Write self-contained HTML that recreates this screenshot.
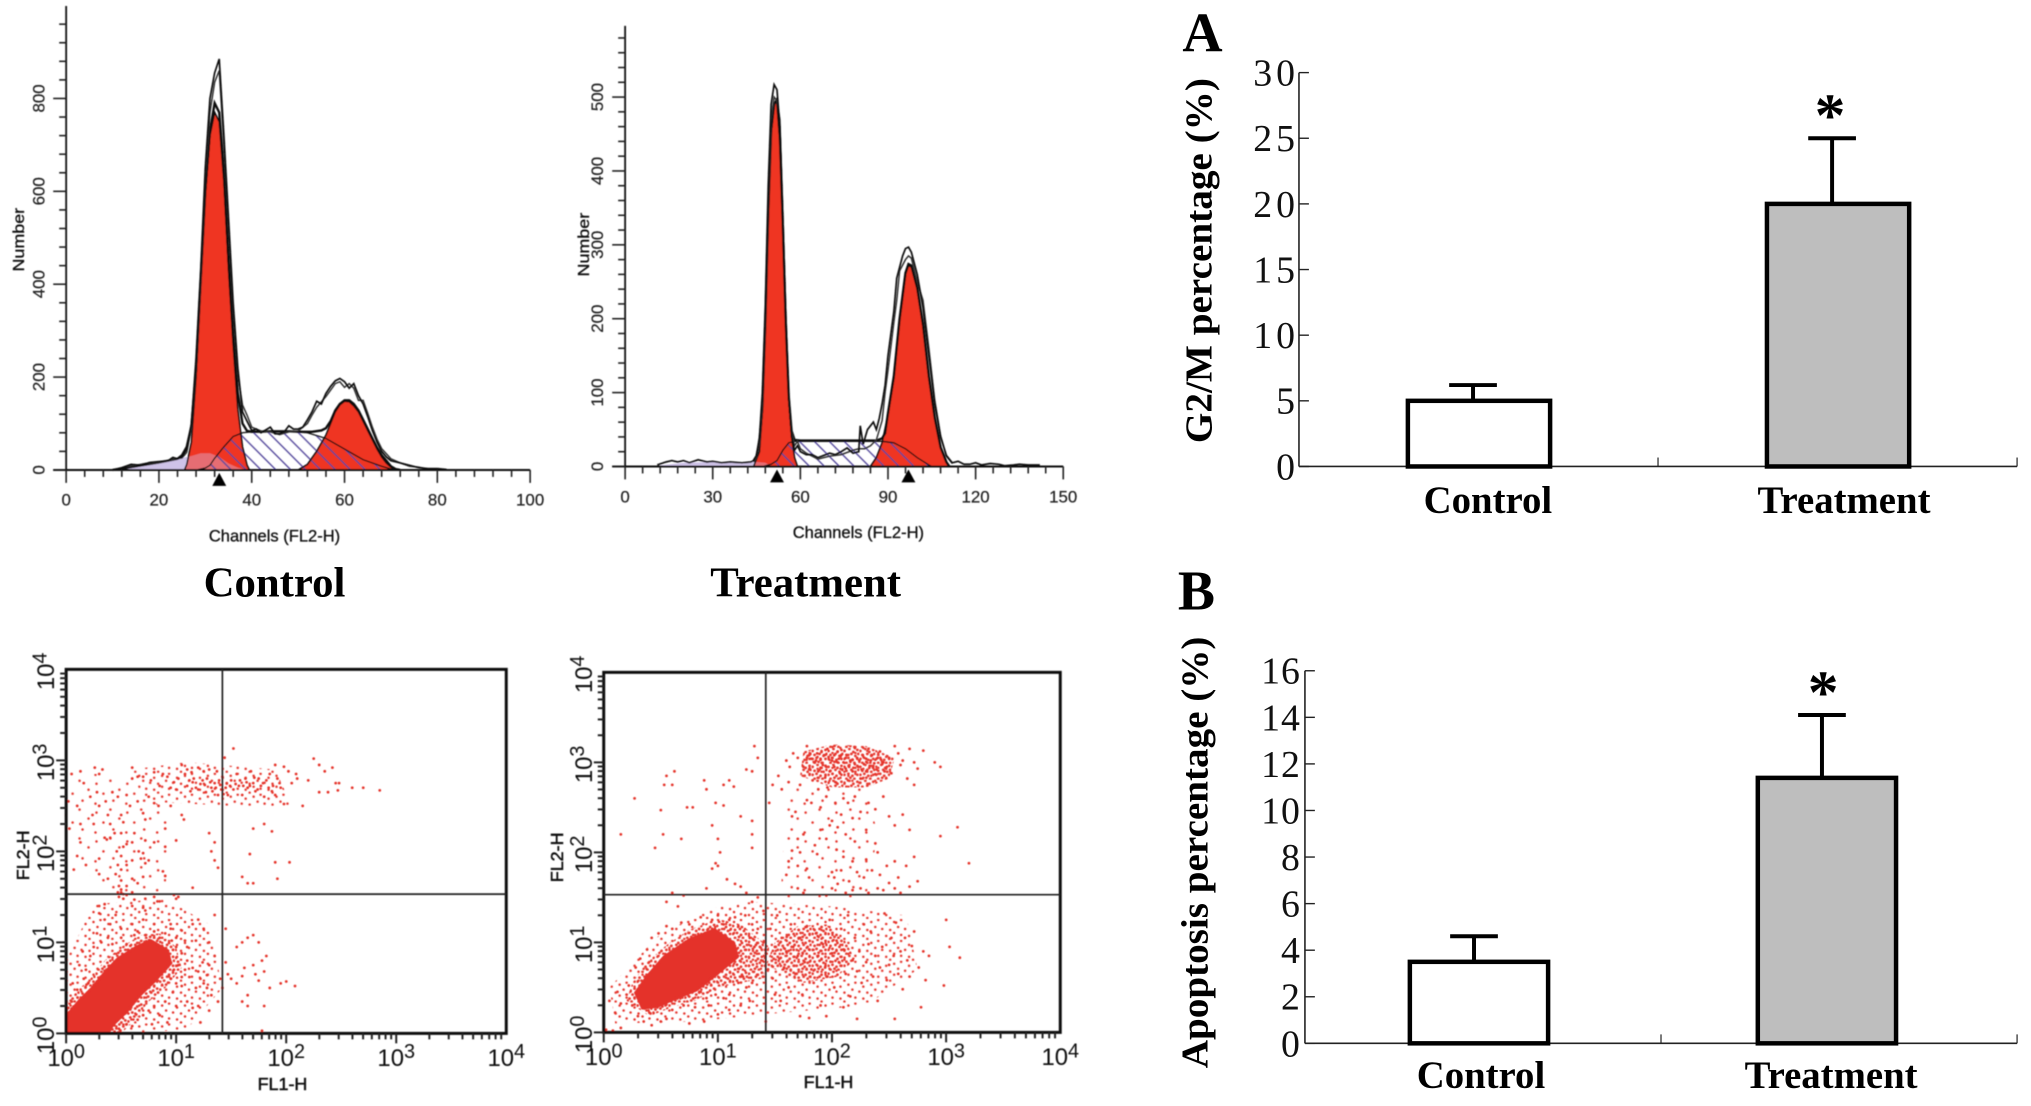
<!DOCTYPE html>
<html>
<head>
<meta charset="utf-8">
<title>Cell cycle and apoptosis flow cytometry</title>
<style>
html,body{margin:0;padding:0;background:#fff;}
svg{display:block;}
text{font-family:"Liberation Sans",sans-serif;}
.serif{font-family:"Liberation Serif",serif;}
</style>
</head>
<body>
<svg id="fig" width="2031" height="1106" viewBox="0 0 2042 1112" preserveAspectRatio="none" xmlns="http://www.w3.org/2000/svg">
<defs>
<pattern id="hatch" patternUnits="userSpaceOnUse" width="15" height="15">
<path d="M-2,-2 L17,17 M-2,13 L2,17 M13,-2 L17,2" stroke="#54489c" stroke-width="1.4" fill="none"/>
</pattern>
<pattern id="speckleDense" patternUnits="userSpaceOnUse" width="16" height="16">
<g fill="#e5342c"><circle cx="1" cy="3" r="1.4"/><circle cx="6" cy="1" r="1.4"/><circle cx="10" cy="4" r="1.4"/><circle cx="14" cy="2" r="1.4"/><circle cx="3" cy="7" r="1.4"/><circle cx="8" cy="6" r="1.4"/><circle cx="12" cy="8" r="1.4"/><circle cx="15" cy="6" r="1.4"/><circle cx="1" cy="11" r="1.4"/><circle cx="5" cy="10" r="1.4"/><circle cx="9" cy="12" r="1.4"/><circle cx="14" cy="11" r="1.4"/><circle cx="3" cy="15" r="1.4"/><circle cx="7" cy="14" r="1.4"/><circle cx="11" cy="15" r="1.4"/></g>
</pattern>
<pattern id="speckleMid" patternUnits="userSpaceOnUse" width="23" height="21">
<g fill="#e5342c"><circle cx="2" cy="3" r="1.25"/><circle cx="9" cy="1" r="1.25"/><circle cx="17" cy="5" r="1.25"/><circle cx="6" cy="8" r="1.25"/><circle cx="13" cy="10" r="1.25"/><circle cx="21" cy="11" r="1.25"/><circle cx="2" cy="14" r="1.25"/><circle cx="9" cy="16" r="1.25"/><circle cx="17" cy="17" r="1.25"/><circle cx="21" cy="20" r="1.25"/></g>
</pattern>
<pattern id="speckleSparse" patternUnits="userSpaceOnUse" width="31" height="29">
<g fill="#e5342c"><circle cx="4" cy="5" r="1.25"/><circle cx="18" cy="2" r="1.25"/><circle cx="27" cy="11" r="1.25"/><circle cx="11" cy="15" r="1.25"/><circle cx="21" cy="22" r="1.25"/><circle cx="3" cy="25" r="1.25"/></g>
</pattern>
<filter id="soft" x="-5%" y="-5%" width="110%" height="110%"><feGaussianBlur stdDeviation="0.55"/></filter>
</defs>
<rect width="2042" height="1112" fill="#fff"/>
<g id="left" filter="url(#soft)"></g>
<g id="right"></g>
</svg>
<script>
/* ---------- Histogram data: [channel, count] ---------- */
const ctrlRawA=[[10,0],[12,5],[14,12],[16,10],[18,16],[20,18],[22,20],[23,27],[24,24],[25,28],[26,45],[27,100],[28,240],[29,430],[30,650],[31,800],[32,855],[33,885],[34,720],[35,540],[36,360],[37,220],[38,125],[39,105],[40,85],[41,88],[42,80],[43,86],[44,92],[45,78],[46,78],[47,82],[48,95],[49,88],[50,88],[51,92],[52,108],[53,125],[54,148],[55,142],[56,165],[57,180],[58,192],[59,197],[60,190],[61,176],[62,186],[63,160],[64,142],[65,115],[66,85],[67,60],[68,40],[69,28],[70,20],[72,15],[74,10],[76,5],[78,3],[80,3],[82,1]];
const ctrlRawB=[[11,2],[13,8],[15,10],[17,14],[19,15],[21,18],[23,22],[25,26],[26,38],[27,90],[28,225],[29,410],[30,630],[31,770],[32,835],[33,860],[34,700],[35,520],[36,345],[37,205],[38,140],[39,118],[40,92],[42,84],[44,82],[46,76],[48,82],[50,84],[52,100],[53,118],[54,135],[56,158],[58,186],[59,190],[60,178],[61,186],[62,176],[63,150],[64,150],[65,122],[66,92],[67,66],[68,46],[70,24],[72,15],[74,8],[76,6],[78,2],[80,1]];
const ctrlFit=[[10,0],[15,8],[20,16],[24,24],[25,32],[26,50],[27,95],[28,215],[29,410],[30,600],[31,730],[32,790],[33,770],[34,640],[35,450],[36,290],[37,165],[38,100],[39,84],[40,82],[44,83],[48,83],[51,82],[53,82],[55,85],[56,90],[57,105],[58,128],[59,142],[60,150],[61,150],[62,142],[63,128],[64,108],[65,88],[66,68],[67,48],[68,32],[69,20],[70,8],[71,2],[72,0]];
const ctrlG1=[[25.5,0],[26,12],[27,60],[28,200],[29,400],[30,590],[31,720],[32,770],[33,750],[34,620],[35,430],[36,270],[37,130],[38,50],[39,10],[39.5,0]];
const ctrlG2=[[50,0],[52,12],[54,40],[56,75],[57,100],[58,125],[59,140],[60,148],[61,147],[62,138],[63,125],[64,105],[65,85],[66,65],[67,45],[68,28],[69,15],[70,6],[71,0]];
const ctrlS=[[28,0],[30,4],[31,10],[32,25],[34,50],[36,72],[38,80],[40,82],[44,83],[48,83],[52,80],[56,68],[60,45],[64,22],[68,8],[70,2],[72,0]];
const ctrlSub=[[10,0],[15,8],[20,16],[24,24],[27,30],[29,36],[31,36],[33,28],[35,14],[37,5],[39,0]];
const ctrlPeaks=[33];
const ctrlXTicks=[0,20,40,60,80,100];
const ctrlYTicks=[0,200,400,600,800];

const trtRawA=[[11,2],[14,6],[16,8],[18,6],[20,8],[22,5],[25,9],[28,6],[30,7],[33,5],[36,6],[40,5],[43,6],[44,8],[45,15],[46,40],[47,100],[48,220],[49,380],[50,490],[51,517],[52,510],[53,460],[54,330],[55,200],[56,90],[57,40],[58,22],[59,28],[60,20],[61,18],[62,16],[64,16],[66,12],[68,15],[70,18],[72,16],[74,20],[76,25],[78,18],[80,20],[80.5,55],[81.5,30],[83,50],[85,60],[86,50],[87,65],[88,85],[89,110],[90,150],[92,210],[93,255],[95,285],[96,295],[97,297],[98,290],[100,260],[102,215],[104,150],[106,85],[108,40],[110,15],[112,5],[114,7],[116,3],[118,3],[120,5],[122,2],[125,4],[128,3],[130,1],[133,2],[135,3],[138,2],[142,2]];
const trtRawB=[[44,6],[45,12],[46,32],[47,85],[48,200],[49,360],[50,470],[51,500],[52,495],[53,470],[54,345],[55,215],[56,100],[57,48],[58,28],[59,34],[60,24],[62,18],[64,14],[66,10],[70,14],[74,16],[78,22],[80,24],[82,24],[84,28],[86,36],[88,62],[89,100],[90,130],[92,195],[93,225],[94,265],[96,280],[97,285],[98,282],[100,250],[102,225],[104,160],[106,90],[108,42],[110,14],[112,4]];
const trtFit=[[44,8],[45,14],[46,34],[47,80],[48,195],[49,345],[50,455],[51,490],[52,497],[53,445],[54,325],[55,195],[56,95],[57,48],[58,36],[60,35],[70,35],[80,35],[86,35],[88,38],[89,45],[90,72],[92,122],[94,200],[96,262],[97,274],[98,272],[100,242],[102,192],[104,122],[106,66],[108,26],[110,6],[111,0]];
const trtG1=[[44,0],[46,20],[47,75],[48,190],[49,340],[50,450],[51,490],[52,495],[53,440],[54,320],[55,190],[56,90],[57,40],[58,12],[59,0]];
const trtG2=[[84,0],[86,12],[88,32],[90,70],[92,120],[94,200],[96,260],[97,272],[98,270],[100,240],[102,190],[104,120],[106,65],[108,25],[110,5],[111,0]];
const trtS=[[47,0],[48,1],[50,3],[52,8],[54,22],[56,32],[58,34],[70,34],[80,34],[88,34],[92,32],[96,24],[100,12],[104,2],[105,0]];
const trtSub=[[11,1],[20,5],[30,6],[40,6],[45,6],[48,5],[50,0]];
const trtPeaks=[52,97];
const trtXTicks=[0,30,60,90,120,150];
const trtYTicks=[0,100,200,300,400,500];

/* ---------- Scatter data: [log10 FL1, log10 FL2] ---------- */
const ctrlDotsUpper=[[.05,2.85],[.13,2.88],[.26,2.92],[.3,2.85],[.33,2.9],[.6,2.92],[.6,2.8],[.65,2.82],[.7,2.82],[.77,2.78],[.8,2.87],[.85,2.72],[.88,2.85],[.92,2.82],[.95,2.7],[.98,2.76],[1,2.68],[1.02,2.8],[1.05,2.95],[1.08,2.85],[1.1,2.72],[1.1,2.9],[1.13,2.66],[1.16,2.8],[1.18,2.7],[1.2,2.92],[1.22,2.74],[1.25,2.88],[1.27,2.65],[1.28,2.8],[1.3,2.9],[1.32,2.7],[1.35,2.75],[1.37,2.88],[1.38,2.62],[1.4,2.73],[1.42,2.82],[1.45,2.7],[1.47,2.62],[1.5,2.78],[1.52,2.68],[1.55,2.85],[1.57,2.72],[1.6,2.62],[1.63,2.8],[1.65,2.7],[1.68,2.88],[1.7,2.75],[1.72,2.66],[1.75,2.8],[1.77,2.72],[1.8,2.6],[1.82,2.78],[1.85,2.85],[1.88,2.72],[1.9,2.62],[1.92,2.8],[1.95,2.7],[1.98,2.52],[2.05,2.75],[2.1,2.8],[2.15,2.5],[2.2,2.78],[2.3,2.95],[2.25,3.02],[2.35,2.88],[2.42,2.92],[2.45,2.75],[2.3,2.65],[2.38,2.65],[2.47,2.67],[2.48,2.75],[2.6,2.7],[2.7,2.7],[2.85,2.67],[1.44,3.03],[1.52,3.13],[1.9,2.95],[1.98,2.93],[2.02,2.88],[2.09,2.85],[1.12,2.78],[1.14,2.87],[1.15,2.76],[1.2,2.68],[1.24,2.78],[1.26,2.73],[1.31,2.76],[1.33,2.66],[1.36,2.7],[1.39,2.78],[1.41,2.68],[1.43,2.63],[1.46,2.75],[1.49,2.72],[1.54,2.74],[1.58,2.78],[1.61,2.72],[1.64,2.76],[1.67,2.72],[1.71,2.81],[1.74,2.68],[1.79,2.75],[1.84,2.7],[1.87,2.66],[1.94,2.75]];
const ctrlDotsMid=[[0,2.4],[.02,2.55],[.03,2.25],[.1,2.5],[.13,2.3],[.16,2.75],[.22,2.6],[.24,2.4],[.25,2.3],[.28,2.65],[.3,2.5],[.36,2.55],[.38,2.4],[.4,2.3],[.42,2.65],[.44,2.2],[.47,2.6],[.5,2.4],[.5,2.2],[.52,2.32],[.55,2.62],[.58,2.5],[.62,2.2],[.65,2.55],[.7,2.42],[.72,2.35],[.75,2.6],[.8,2.53],[.84,2.5],[.9,2.25],[.95,2.5],[1.05,2.4],[1.07,2.35],[.13,2.1],[.35,2.15],[.37,2.13],[.4,2.15],[.46,2],[.5,1.95],[.52,2.05],[.55,2.08],[.6,2.1],[.66,2],[.7,1.98],[.72,2.12],[.8,2.1],[.9,2.05],[1,2.12],[1.32,2],[.1,1.95],[.3,1.92],[.07,1.8],[.18,1.85],[.47,1.85],[.5,1.8],[.55,1.85],[.6,1.9],[.68,1.92],[.72,1.87],[.75,1.9],[.3,1.75],[.38,1.7],[.45,1.75],[.5,1.68],[.55,1.62],[.6,1.7],[.65,1.65],[.7,1.72],[.9,1.73],[.88,1.78],[1.15,1.6],[1.38,1.82],[1.35,1.9],[1.67,1.97],[1.65,1.65],[1.7,1.65],[1.6,1.72],[1.9,1.88],[1.92,1.7],[2.03,1.88],[1.7,2.25],[1.8,2.3],[1.87,2.22],[1.3,2.2],[1.35,2.1],[.47,1.55],[.5,1.58],[.52,1.53],[.48,1.62]];
const ctrlDotsLow=[[.5,1.55],[.48,1.5],[.52,1.48],[.55,1.52],[.6,1.55],[.62,1.47],[.72,1.48],[.8,1.5],[.83,1.45],[1,1.48],[.98,1.52],[1.02,1.5],[.3,1.4],[.35,1.42],[.45,1.3],[.6,1.4],[.7,1.38],[.72,1.35],[.85,1.45],[.95,1.2],[.3,1.32],[.35,1.25],[.4,1.2],[.5,1.15],[.6,1.2],[.65,1.12],[.7,1.25],[.8,1.2],[.9,1.1],[.95,1.15],[1,1.05],[1.05,1.13],[1.15,1.2],[1.2,1.25],[1.25,1.15],[1.3,1],[1.35,1.3],[1.45,1.15],[1.55,.95],[1.6,1],[1.65,1.05],[1.7,1.08],[1.75,1],[1,.95],[1.05,.88],[1.1,.8],[1.02,.75],[1.08,.7],[1.15,.72],[1.2,.68],[1.22,.6],[1.25,.55],[1.3,.75],[1.35,.85],[1.28,.5],[1.18,.5],[1.12,.62],[1.05,.52],[1,.55],[.95,.6],[.97,.45],[.9,.35],[1,.3],[1.1,.35],[1.15,.28],[1.2,.3],[1.22,.12],[1.3,.25],[1.38,.35],[1.4,.6],[1.42,.5],[1.45,.78],[1.47,.65],[1.5,.6],[1.55,.55],[1.6,.63],[1.65,.3],[1.65,.42],[1.6,.35],[1.62,.72],[1.7,.75],[1.72,.65],[1.8,.68],[1.75,.58],[1.78,.8],[1.82,.85],[1.8,.3],[1.85,.5],[1.95,.55],[2,.57],[2.08,.52],[1.78,.03],[.15,.9],[.12,.75],[.18,.7],[.22,.85],[.25,.95],[.28,1.1],[.32,1],[.38,1.05],[.42,.98],[.5,1.05],[.55,.98],[.62,1.08],[.72,1.08],[.8,1.12],[.85,1.05],[.96,1.02],[.06,.55],[.1,.48],[.16,.6],[.2,.55],[.05,.35],[.02,.28],[.03,.15],[.08,.08],[.44,.02],[.48,.05],[.55,.1],[.6,.08],[.65,.15],[.7,.2],[.75,.25],[.8,.3],[.85,.2],[.92,.12],[.78,.1],[1.32,.42],[1.28,.64],[1.24,.78],[1.1,.95],[1.18,1.02],[1.08,1.02],[1.05,.62],[.98,.7]];
const trtDotsTop=[[1.6,3.02],[1.63,2.95],[1.66,3.1],[1.7,3.05],[1.75,2.95],[1.78,3.18],[1.8,3.08],[1.8,2.92],[1.83,2.8],[1.85,3],[1.87,3.1],[1.88,2.9],[1.9,3.04],[1.92,2.97],[1.94,2.83],[1.96,3.15],[1.97,3.06],[1.98,2.9],[2,3.02],[2.02,2.95],[2.03,2.78],[2.05,3.12],[2.06,3.04],[2.07,2.88],[2.1,3],[2.12,2.93],[2.13,3.08],[2.14,2.8],[2.16,3.02],[2.18,2.9],[2.2,3.16],[2.22,3.05],[2.23,2.95],[2.25,2.82],[2.27,3.08],[2.28,2.98],[2.3,2.9],[2.32,3.15],[2.34,3.02],[2.36,2.94],[2.38,2.87],[2.4,3.05],[2.42,3.12],[2.44,2.98],[2.46,2.9],[2.5,3.05],[2.52,2.88],[2.55,3.18],[2.58,3.1],[2.6,2.97],[2.62,3.02],[2.66,2.82],[2.68,3.15],[2.72,3],[2.75,2.93],[2.8,3.13],[2.9,3],[2.95,2.95],[2,3.05],[2.05,3],[2.08,3.08],[2.12,3.05],[2.15,2.95],[2.18,3.03],[2.2,2.98],[2.24,3.02],[2.26,2.92],[2.3,3.04],[2.33,2.96],[2.35,3.08],[2.37,2.99],[2.39,2.92],[2.43,3.03],[2.45,3],[2.48,2.95],[1.78,3.05],[1.82,3.04],[1.86,3.02],[1.9,2.94],[1.93,3.08],[1.95,2.95],[2.02,3.08],[2.09,2.92]];
const trtDotsColumn=[[1.45,2.55],[1.48,2.75],[1.53,2.85],[1.56,2.7],[1.62,2.78],[1.65,2.4],[1.68,2.45],[1.72,2.75],[1.78,2.58],[1.82,2.55],[1.88,2.7],[1.9,2.5],[1.95,2.62],[1.96,2.72],[2,2.35],[2.03,2.55],[2.05,2.28],[2.08,2.42],[2.1,2.6],[2.14,2.55],[2.18,2.38],[2.2,2.62],[2.25,2.45],[2.3,2.25],[2.32,2.55],[2.38,2.48],[2.45,2.62],[2.5,2.4],[2.55,2.3],[2.62,2.42],[2.68,2.25],[2.72,2.75],[1.7,2.15],[1.72,2],[1.75,2.2],[1.6,1.75],[1.62,1.9],[1.65,2.02],[1.7,1.85],[1.75,1.55],[1.8,1.72],[1.85,2.08],[1.87,1.98],[1.9,2.25],[1.95,2.15],[1.98,2.3],[2,1.78],[2.04,2.03],[2.05,1.65],[2.08,1.8],[2.1,1.95],[2.12,2.2],[2.15,1.68],[2.18,1.9],[2.2,2.12],[2.22,1.78],[2.25,1.6],[2.28,1.72],[2.3,1.92],[2.32,1.55],[2.35,1.8],[2.38,2.1],[2.4,2],[2.42,1.75],[2.45,1.58],[2.48,1.85],[2.5,1.66],[2.55,1.9],[2.58,1.72],[2.6,1.55],[2.65,1.85],[2.68,1.62],[2.72,1.95],[2.75,1.68],[3.2,1.88],[2.95,2.18],[3.1,2.28],[1.7,1.6],[1.78,1.82],[1.95,1.52],[2,1.6],[2.02,1.72],[2.12,1.55],[2.18,1.58],[2.4,1.6],[2.55,1.6]];
const trtDotsLeft=[[.15,2.2],[.27,2.6],[.45,2.05],[.5,2.47],[.52,2.2],[.53,2.75],[.6,2.75],[.62,2.9],[.55,2.85],[.68,2.15],[.73,2.5],[.78,2.5],[.88,2.8],[.95,2.3],[1,2.15],[1.02,2],[.9,2.7],[.98,2.55],[1.05,2.75],[1.05,2.52],[1.1,2.8],[1.14,2.73],[1.2,2.4],[1.25,2.92],[1.3,2.9],[1.32,3.18],[1.35,3.05],[1.3,2.2],[1.3,2.05],[1.3,2.35],[.95,1.82],[.98,1.88],[.9,1.6],[1,1.85],[1.08,1.7],[1.15,1.65],[1.2,1.62],[1.25,1.55],[.6,1.55],[.7,1.52],[.55,1.45],[.65,1.4],[1.3,1.45],[1.35,1.5],[1.4,1.35]];
const trtDotsLow=[[1.3,1.2],[1.28,1.05],[1.32,.95],[1.24,1.3],[1.35,1.15],[1.38,.8],[1.4,1],[1.42,.88],[1.44,.7],[1.46,1.15],[1.48,.6],[1.5,.95],[1.52,1.3],[1.54,.82],[1.56,1.05],[1.58,.72],[1.6,.9],[1.62,.5],[1.64,1.2],[1.66,.95],[1.68,.65],[1.7,.85],[1.72,1.05],[1.74,.42],[1.76,.78],[1.78,1.18],[1.8,.92],[1.82,.7],[1.84,.55],[1.86,1.1],[1.88,.85],[1.9,.3],[1.92,.98],[1.94,.72],[1.96,.62],[1.98,1.25],[2,.88],[2.02,.5],[2.04,1.02],[2.06,.78],[2.08,1.15],[2.1,.92],[2.12,.65],[2.14,1.3],[2.16,.4],[2.18,.8],[2.2,1.05],[2.22,.68],[2.24,.9],[2.26,.55],[2.28,1.2],[2.3,.78],[2.32,.98],[2.34,1.12],[2.36,.62],[2.38,.85],[2.4,.35],[2.42,.72],[2.44,.95],[2.46,1.32],[2.48,.58],[2.5,.75],[2.52,1.05],[2.54,.85],[2.56,1.22],[2.58,.65],[2.6,.9],[2.62,.48],[2.64,1.05],[2.66,.8],[2.68,.62],[2.7,.96],[2.72,1.12],[2.76,.72],[2.8,.9],[2.82,.58],[2.85,.85],[3,1.25],[3.03,.95],[3.12,.83],[2.98,.52],[2.78,.28],[2.55,.15],[2.22,.15],[1.95,.18],[1.8,.16],[1.72,.18],[2.1,.28],[1.3,.55],[1.28,.35],[1.2,.3],[1.1,.25],[1,.2],[.88,.12],[.75,.1],[.55,.15],[.5,.12],[.42,.08],[.15,.05],[.08,.02],[.02,.03],[.1,.22],[.05,.35],[.15,.32],[.2,.42],[.12,.45],[.22,.52],[.25,.3],[.3,.18],[.35,.12],[.4,.22],[.6,.25],[.7,.3],[.8,.28],[.92,.3],[1.42,.12],[1.5,.42],[1.55,.35],[.28,.72],[.32,.82],[.38,.92],[.42,1.05],[.48,1.1],[.55,1.18],[.6,1.15],[.68,1.22],[.75,1.2],[.85,1.28],[.95,1.25],[1,1.3],[1.05,1.2],[1.1,1.25],[1.15,1.28],[1.18,1.18],[.95,1.15],[1.22,.62],[1.25,.5],[1.18,.55],[1.1,.42],[1.05,.38],[.98,.42],[.9,.38],[.85,.45]];
/* population outlines, [log10 FL1, log10 FL2] */
const ctrlBlob=[[.02,.02],[.01,.2],[.12,.36],[.23,.49],[.36,.68],[.47,.82],[.64,.95],[.77,1.02],[.92,.91],[.95,.77],[.8,.57],[.67,.42],[.55,.24],[.42,.09],[.39,.02]];
const ctrlHaloDense=[[0,0],[0,.32],[.1,.47],[.22,.6],[.35,.8],[.5,.95],[.68,1.08],[.85,1.1],[1,.95],[1.05,.72],[.9,.5],[.75,.35],[.62,.14],[.5,0]];
const ctrlHaloMid=[[0,0],[0,.8],[.25,1.42],[.9,1.48],[1.3,1.2],[1.42,.5],[1.1,.05],[.7,0]];
const ctrlHaloUpper=[[.7,2.55],[.6,2.9],[1.1,2.98],[1.9,2.9],[2.05,2.5],[1.5,2.5]];
const ctrlHaloLeft=[[0,2.2],[0,2.85],[.5,2.85],[.95,2.4],[.9,1.55],[.3,1.55]];
const trtBlob=[[.28,.44],[.38,.62],[.53,.84],[.75,1.03],[.97,1.14],[1.14,.99],[1.17,.84],[1,.66],[.81,.47],[.63,.38],[.47,.29],[.34,.27]];
const trtHaloDense=[[.2,.35],[.25,.55],[.38,.78],[.55,.97],[.75,1.14],[1,1.26],[1.2,1.2],[1.35,1.05],[1.45,.95],[1.4,.6],[1.2,.55],[1,.5],[.8,.35],[.6,.28],[.4,.18]];
const trtHaloTop=[[1.72,2.85],[1.75,3.12],[2,3.2],[2.3,3.18],[2.55,3.05],[2.5,2.82],[2.3,2.72],[2,2.72]];
const trtHaloLower=[[1.42,.75],[1.5,1],[1.7,1.18],[1.95,1.2],[2.1,1.05],[2.2,.82],[2.05,.62],[1.75,.55]];
const trtHaloWide=[[.1,.1],[.05,.5],[.5,1.1],[1,1.4],[1.3,1.45],[2,1.4],[2.65,1.3],[2.75,.7],[2.3,.3],[1.4,.2],[.8,.12]];
const trtHaloColumn=[[1.55,1.5],[1.6,2.72],[2.3,2.72],[2.4,2.2],[2.3,1.5]];
const decadeLabels=[0,1,2,3,4];

/* ---------- Bar data ---------- */
const barCategories=['Control','Treatment'];
const g2mValues=[5,20];
const g2mErrors=[1.2,5];
const g2mTicks=[0,5,10,15,20,25,30];
const apopValues=[3.5,11.4];
const apopErrors=[1.1,2.7];
const apopTicks=[0,2,4,6,8,10,12,14,16];

const NS='http://www.w3.org/2000/svg';
function mk(parent,tag,attrs,name,txt){
  const el=document.createElementNS(NS,tag);
  for(const k in attrs) el.setAttribute(k,attrs[k]);
  
  
  if(txt!==undefined) el.textContent=txt;
  parent.appendChild(el);
  return el;
}
function linear(d0,d1,r0,r1){return v=>r0+(v-d0)/(d1-d0)*(r1-r0);}
function linePath(pts,x,y){return pts.map((p,i)=>(i?'L':'M')+x(p[0]).toFixed(1)+','+y(p[1]).toFixed(1)).join('');}
function areaPath(pts,x,y){return linePath(pts,x,y)+'L'+x(pts[pts.length-1][0]).toFixed(1)+','+y(0).toFixed(1)+'L'+x(pts[0][0]).toFixed(1)+','+y(0).toFixed(1)+'Z';}

/* ---------- Histogram panel ---------- */
function drawHist(c){
  const root=document.getElementById('left');
  const g=mk(root,'g',{},c.name+'-histogram');
  const x=linear(0,c.xMax,c.left,c.right), y=linear(0,c.yRef,c.y0,c.yRefPx);
  mk(g,'path',{d:areaPath(c.sub,x,y),fill:'#c8c4e6'},'sub-g1-area');
  mk(g,'path',{d:areaPath(c.g1,x,y),fill:'#ef3524'},'g1-peak-area');
  mk(g,'path',{d:areaPath(c.g2,x,y),fill:'#ef3524'},'g2-peak-area');
  mk(g,'path',{d:areaPath(c.sub,x,y),fill:'#d9c4ea','fill-opacity':.4},'sub-g1-overlay');
  mk(g,'path',{d:areaPath(c.s,x,y),fill:'url(#hatch)',stroke:'#111','stroke-width':1.3},'s-phase-area');
  mk(g,'path',{d:linePath(c.g1,x,y),fill:'none',stroke:'#111','stroke-width':1.6},'g1-peak-outline');
  mk(g,'path',{d:linePath(c.g2,x,y),fill:'none',stroke:'#111','stroke-width':1.6},'g2-peak-outline');
  mk(g,'path',{d:linePath(c.fit,x,y),fill:'none',stroke:'#111','stroke-width':2.4},'fit-line');
  mk(g,'path',{d:linePath(c.rawB,x,y),fill:'none',stroke:'#333','stroke-width':1.5},'raw-line-b');
  mk(g,'path',{d:linePath(c.rawA,x,y),fill:'none',stroke:'#111','stroke-width':1.7},'raw-line-a');
  mk(g,'line',{x1:c.left,x2:c.left,y1:c.top,y2:c.y0,stroke:'#111','stroke-width':1.8},'y-axis');
  mk(g,'line',{x1:c.left-13,x2:c.right,y1:c.y0,y2:c.y0,stroke:'#111','stroke-width':2},'x-axis');
  for(let v=0;v<=c.xMax+.01;v+=c.xMinor){
    const maj=c.xTicks.indexOf(v)>=0;
    mk(g,'line',{x1:x(v),x2:x(v),y1:c.y0,y2:c.y0+(maj?13:7),stroke:'#222','stroke-width':1.6},'x-tick');
  }
  for(let v=0;v<=c.yMax+.01;v+=c.yMinor){
    const maj=c.yTicks.indexOf(v)>=0;
    mk(g,'line',{x1:c.left-(maj?13:7),x2:c.left,y1:y(v),y2:y(v),stroke:'#222','stroke-width':1.6},'y-tick');
  }
  c.xTicks.forEach(v=>{
    mk(g,'text',{x:x(v),y:c.y0+36,'text-anchor':'middle','font-size':17,fill:'#222',stroke:'#222','stroke-width':.2},'x-tick-label',String(v));
  });
  c.yTicks.forEach(v=>{
    mk(g,'text',{transform:'translate('+(c.left-22)+','+y(v)+') rotate(-90)','text-anchor':'middle','font-size':17,fill:'#222',stroke:'#222','stroke-width':.2},'y-tick-label',String(v));
  });
  c.peaks.forEach(v=>{
    const px=x(v);
    mk(g,'path',{d:'M'+(px-7)+','+(c.y0+16)+'L'+px+','+(c.y0+3)+'L'+(px+7)+','+(c.y0+16)+'Z',fill:'#000'},'peak-marker');
  });
  mk(g,'text',{transform:'translate('+c.numX+','+c.numY+') rotate(-90)','text-anchor':'middle','font-size':16,textLength:64,lengthAdjust:'spacingAndGlyphs',fill:'#111',stroke:'#111','stroke-width':.3},'y-axis-title','Number');
  mk(g,'text',{x:c.chX,y:c.y0+72,'text-anchor':'middle','font-size':17,textLength:132,lengthAdjust:'spacingAndGlyphs',fill:'#111',stroke:'#111','stroke-width':.3},'x-axis-title','Channels (FL2-H)');
}
drawHist({name:'control',left:66.5,right:533,top:6,y0:472.5,xMax:100,yRef:800,yRefPx:99,yMax:960,xMinor:4,yMinor:40,xTicks:ctrlXTicks,yTicks:ctrlYTicks,
  sub:ctrlSub,g1:ctrlG1,g2:ctrlG2,s:ctrlS,fit:ctrlFit,rawA:ctrlRawA,rawB:ctrlRawB,peaks:ctrlPeaks,numX:24,numY:241,chX:276});
drawHist({name:'treatment',left:628.5,right:1069,top:26,y0:469,xMax:150,yRef:500,yRefPx:97.6,yMax:580,xMinor:6,yMinor:20,xTicks:trtXTicks,yTicks:trtYTicks,
  sub:trtSub,g1:trtG1,g2:trtG2,s:trtS,fit:trtFit,rawA:trtRawA,rawB:trtRawB,peaks:trtPeaks,numX:592,numY:246,chX:863});

/* panel captions */
const capRoot=document.getElementById('right');
mk(capRoot,'text',{x:276,y:600,'text-anchor':'middle','font-size':43,'font-weight':'bold',class:'serif',fill:'#000'},'control-caption','Control');
mk(capRoot,'text',{x:810,y:600,'text-anchor':'middle','font-size':43,'font-weight':'bold',class:'serif',fill:'#000'},'treatment-caption','Treatment');

/* ---------- Scatter panel ---------- */
function drawScatter(c){
  const root=document.getElementById('left');
  const g=mk(root,'g',{},c.name+'-scatter');
  const x=linear(0,4,c.left,c.right), y=linear(0,4,c.bottom,c.top);
  const poly=p=>p.map(q=>x(q[0]).toFixed(1)+','+y(q[1]).toFixed(1)).join(' ');
  c.halos.forEach(h=>{
    mk(g,'polygon',{points:poly(h[0]),fill:'url(#'+h[1]+')'},'population-speckle');
  });
  c.dots.forEach(list=>{
    list.forEach(p=>{
      mk(g,'circle',{cx:x(p[0]).toFixed(1),cy:y(p[1]).toFixed(1),r:1.4,fill:'#e5342c'},'event-dot');
    });
  });
  mk(g,'polygon',{points:poly(c.blob),fill:'#e4302a',stroke:'#e4302a','stroke-width':3,'stroke-linejoin':'round'},'dense-population');
  mk(g,'rect',{x:c.left,y:c.top,width:c.right-c.left,height:c.bottom-c.top,fill:'none',stroke:'#111','stroke-width':3},'plot-frame');
  mk(g,'line',{x1:x(c.gateX),x2:x(c.gateX),y1:c.top,y2:c.bottom,stroke:'#222','stroke-width':1.7},'vertical-gate');
  mk(g,'line',{x1:c.left,x2:c.right,y1:y(c.gateY),y2:y(c.gateY),stroke:'#222','stroke-width':1.7},'horizontal-gate');
  decadeLabels.forEach(d=>{
    const tx=mk(g,'text',{x:x(d),y:c.bottom+33,'text-anchor':'middle','font-size':24,fill:'#111'},'x-tick-label');
    tx.appendChild(document.createTextNode('10'));
    mk(tx,'tspan',{dy:-8,'font-size':20},'x-tick-exponent',String(d));
    const ty=mk(g,'text',{transform:'translate('+(c.left-12)+','+(y(d)+2)+') rotate(-90)','text-anchor':'middle','font-size':24,fill:'#111'},'y-tick-label');
    ty.appendChild(document.createTextNode('10'));
    mk(ty,'tspan',{dy:-8,'font-size':20},'y-tick-exponent',String(d));
    if(d<4){
      for(let k=1;k<10;k++){
        const v=d+Math.log10(k), len=k===1?10:6;
        mk(g,'line',{x1:x(v),x2:x(v),y1:c.bottom,y2:c.bottom+len,stroke:'#222','stroke-width':2},'x-minor-tick');
        mk(g,'line',{x1:c.left-len,x2:c.left,y1:y(v),y2:y(v),stroke:'#222','stroke-width':2},'y-minor-tick');
      }
    }
  });
  mk(g,'text',{x:c.fl1X,y:c.fl1Y,'text-anchor':'middle','font-size':18,fill:'#111',stroke:'#111','stroke-width':.5},'x-axis-title','FL1-H');
  mk(g,'text',{transform:'translate('+c.fl2X+','+c.fl2Y+') rotate(-90)','text-anchor':'middle','font-size':18,fill:'#111',stroke:'#111','stroke-width':.5},'y-axis-title','FL2-H');
}
drawScatter({name:'control',left:66.5,right:509,top:673,bottom:1039,gateX:1.42,gateY:1.53,blob:ctrlBlob,
  halos:[[ctrlHaloLeft,'speckleSparse'],[ctrlHaloUpper,'speckleMid'],[ctrlHaloMid,'speckleMid'],[ctrlHaloDense,'speckleDense']],
  dots:[ctrlDotsUpper,ctrlDotsMid,ctrlDotsLow],fl1X:284,fl1Y:1096,fl2X:29,fl2Y:860});
drawScatter({name:'treatment',left:607,right:1066,top:676,bottom:1038,gateX:1.42,gateY:1.53,blob:trtBlob,
  halos:[[trtHaloColumn,'speckleSparse'],[trtHaloWide,'speckleMid'],[trtHaloDense,'speckleDense'],[trtHaloLower,'speckleDense'],[trtHaloTop,'speckleDense'],[trtHaloTop,'speckleMid']],
  dots:[trtDotsTop,trtDotsColumn,trtDotsLeft,trtDotsLow],fl1X:833,fl1Y:1094,fl2X:566,fl2Y:862});

/* ---------- Bar panel ---------- */
function drawBars(c){
  const root=document.getElementById('right');
  const g=mk(root,'g',{},c.name+'-bar-chart');
  const y=linear(0,c.yMax,c.y0,c.yTop);
  const w=c.right-c.left;
  mk(g,'line',{x1:c.left,x2:c.left,y1:c.yTop,y2:c.y0,stroke:'#222','stroke-width':1.6},'y-axis');
  mk(g,'line',{x1:c.left,x2:c.right,y1:c.y0,y2:c.y0,stroke:'#222','stroke-width':1.6},'x-axis');
  mk(g,'line',{x1:c.left+w/2,x2:c.left+w/2,y1:c.y0-9,y2:c.y0,stroke:'#222','stroke-width':1.2},'x-mid-tick');
  mk(g,'line',{x1:c.right,x2:c.right,y1:c.y0-9,y2:c.y0,stroke:'#222','stroke-width':1.2},'x-end-tick');
  c.ticks.forEach(v=>{
    mk(g,'line',{x1:c.left,x2:c.left+10,y1:y(v),y2:y(v),stroke:'#222','stroke-width':1.4},'y-tick');
    mk(g,'text',{x:c.left-c.tickGap,y:y(v)+13,'text-anchor':'end','font-size':38,'letter-spacing':c.tickSpacing,class:'serif',fill:'#111'},'y-tick-label',String(v));
  });
  barCategories.forEach((cat,i)=>{
    const cx=c.left+c.centers[i]*w, top=y(c.values[i]), errTop=y(c.values[i]+c.errors[i]);
    const ex=cx-c.errShift;
    mk(g,'line',{x1:ex,x2:ex,y1:errTop,y2:top,stroke:'#000','stroke-width':4},'error-bar-'+cat.toLowerCase());
    mk(g,'line',{x1:ex-24,x2:ex+24,y1:errTop,y2:errTop,stroke:'#000','stroke-width':4},'error-cap-'+cat.toLowerCase());
    mk(g,'rect',{x:cx-c.barW/2,y:top,width:c.barW,height:c.y0-top,fill:i?'#bebebe':'#fff',stroke:'#000','stroke-width':4.5},'bar-'+cat.toLowerCase());
    mk(g,'text',{x:c.labelX[i],y:c.labelY,'text-anchor':'middle','font-size':39,'font-weight':'bold',class:'serif',fill:'#000'},'category-label',cat);
  });
  mk(g,'text',{x:c.starX,y:y(c.values[1]+c.errors[1])-2,'text-anchor':'middle','font-size':62,'font-weight':'bold',class:'serif',fill:'#000'},'significance-star','*');
  mk(g,'text',{transform:'translate('+c.titleX+','+c.titleY+') rotate(-90)','text-anchor':'middle','font-size':38,'font-weight':'bold',class:'serif',textLength:c.titleLen,lengthAdjust:'spacingAndGlyphs',fill:'#000'},'y-axis-title',c.title);
  mk(g,'text',{x:c.letterX,y:c.letterY,'text-anchor':'middle','font-size':56,'font-weight':'bold',class:'serif',fill:'#000'},'panel-letter',c.letter);
}
drawBars({name:'g2m',left:1306,right:2028,y0:469,yTop:73,yMax:30,ticks:g2mTicks,tickGap:0,tickSpacing:4,values:g2mValues,errors:g2mErrors,centers:[.2507,.7507],barW:143,errShift:6,
  labelX:[1496,1854],labelY:516,starX:1840,title:'G2/M percentage (%)',titleX:1218,titleY:262,titleLen:367,letter:'A',letterX:1209,letterY:52});
drawBars({name:'apoptosis',left:1312,right:2028,y0:1049,yTop:674.4,yMax:16,ticks:apopTicks,tickGap:4,tickSpacing:1,values:apopValues,errors:apopErrors,centers:[.2444,.733],barW:139,errShift:5,
  labelX:[1489,1841],labelY:1094,starX:1833,title:'Apoptosis percentage (%)',titleX:1214,titleY:857,titleLen:434,letter:'B',letterX:1203,letterY:613});
</script>
</body>
</html>
